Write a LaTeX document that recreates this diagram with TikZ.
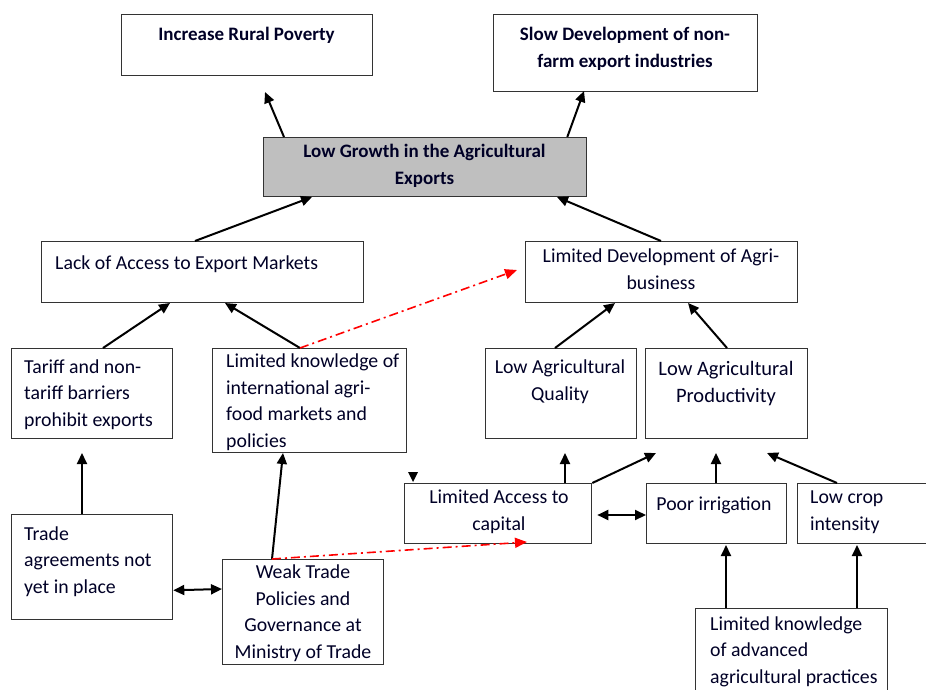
\documentclass[tikz,border=0pt]{standalone}
\usepackage{fontspec}
\setmainfont{Carlito}
\usetikzlibrary{arrows.meta,calc}

\tikzset{
  box/.style={draw=black!80, line width=1.3pt, rectangle, inner sep=0pt, anchor=north west},
  keybox/.style={box, fill=black!25},
  txt/.style={inner sep=0pt, anchor=base, text=black!85!blue, font=\fontsize{19.8}{26.5}\selectfont},
  bold/.style={txt, font=\fontsize{19}{27}\selectfont\bfseries},
  link/.style={line width=2pt, -{Triangle[length=11pt,width=10pt]}},
  twoway/.style={line width=2pt, {Triangle[length=11pt,width=10pt]}-{Triangle[length=11pt,width=10pt]}},
  hint/.style={red, line width=1.6pt, dash pattern=on 9pt off 4pt on 2pt off 4pt, -{Triangle[length=12pt,width=10pt]}}
}

% box from its top-left and bottom-right corners, in pixel units
\newcommand{\cbox}[6][box]{%
  \pgfmathsetmacro{\bw}{#5-#3}\pgfmathsetmacro{\bh}{#6-#4}%
  \node[#1, minimum width=\bw pt, minimum height=\bh pt] (#2) at (#3,#4) {};}

\begin{document}
\begin{tikzpicture}[x=1pt, y=-1pt]
\useasboundingbox (0,0) rectangle (926,690);
\clip (0,0) rectangle (926,690);

% boxes
\cbox{poverty}{121}{14}{372}{75}
\cbox{nonfarm}{493}{14}{757}{91}
\cbox[keybox]{growth}{263}{137}{586}{196}
\cbox{access}{41}{241}{363}{302}
\cbox{agribiz}{525}{241}{797}{302}
\cbox{tariff}{11}{348}{172}{438}
\cbox{intl}{212}{348}{406}{452}
\cbox{quality}{485}{348}{636}{438}
\cbox{product}{645}{348}{807}{438}
\cbox{capital}{404}{483}{591}{543}
\cbox{irrig}{646}{483}{786}{543}
\cbox{crop}{797}{483}{960}{543}
\cbox{practice}{695}{608}{887}{720}
\cbox{agree}{11}{514}{172}{619}
\cbox{policy}{222}{559}{383}{664}

% labels (multi-line labels are placed by the baseline of their last line)
\begin{scope}[yshift=-2pt]
\node[bold] at (246.5,39) {Increase Rural Poverty};
\node[bold, align=center] at (625,66) {Slow Development of non-\\farm export industries};
\node[bold, align=center] at (424.5,182) {Low Growth in the Agricultural\\Exports};
\node[txt, anchor=base west] at (55,267) {Lack of Access to Export Markets};
\node[txt, align=center] at (661,287) {Limited Development of Agri-\\business};
\node[txt, anchor=base west, align=left] at (24,424) {Tariff and non-\\tariff barriers\\prohibit exports};
\node[txt, anchor=base west, align=left] at (226,445) {Limited knowledge of\\international agri-\\food markets and\\policies};
\node[txt, align=center] at (560,398) {Low Agricultural\\Quality};
\node[txt, align=center, font=\fontsize{20.5}{27}\selectfont] at (726,400) {Low Agricultural\\Productivity};
\node[txt, align=center] at (499,528) {Limited Access to\\capital};
\node[txt] at (714,508) {Poor irrigation};
\node[txt, anchor=base west, align=left] at (810,528) {Low crop\\intensity};
\node[txt, anchor=base west, align=left] at (710,681) {Limited knowledge\\of advanced\\agricultural practices};
\node[txt, anchor=base west, align=left] at (24,591) {Trade\\agreements not\\yet in place};
\node[txt, align=center] at (303,656) {Weak Trade\\Policies and\\Governance at\\Ministry of Trade};
\end{scope}

% free arrow ends
\coordinate (povertyIn) at (265,92);
\coordinate (nonfarmIn) at (584,91);
\coordinate (growthInL) at (312,197);
\coordinate (growthInR) at (557,197);
\coordinate (accessInL) at (170,303);
\coordinate (accessInR) at (225,303);
\coordinate (agribizInL) at (615,303);
\coordinate (agribizInR) at (688,303);
\coordinate (agribizRed) at (517,270);
\coordinate (tariffIn) at (82,453);
\coordinate (intlIn) at (283,453);
\coordinate (capitalRed) at (527,542);
\coordinate (qualityIn) at (565,453);
\coordinate (productInL) at (656,453);
\coordinate (productInM) at (716,453);
\coordinate (productInR) at (767,453);
\coordinate (irrigIn) at (726,545);
\coordinate (cropIn) at (857,545);

% causal links
\draw[link] ($(growth.north west)+(21,0)$) -- (povertyIn);
\draw[link] ($(growth.north east)+(-20,0)$) -- (nonfarmIn);
\draw[link] ($(access.north west)+(154,0)$) -- (growthInL);
\draw[link] ($(agribiz.north west)+(136,0)$) -- (growthInR);
\draw[link] ($(tariff.north west)+(92,0)$) -- (accessInL);
\draw[link] ($(intl.north west)+(88,0)$) -- (accessInR);
\draw[link] ($(quality.north west)+(70,0)$) -- (agribizInL);
\draw[link] ($(product.north west)+(82,0)$) -- (agribizInR);
\draw[link] ($(agree.north west)+(71,0)$) -- (tariffIn);
\draw[link] ($(policy.north west)+(50,0)$) -- (intlIn);
\draw[link] ($(capital.north west)+(161,0)$) -- (qualityIn);
\draw[link] (capital.north east) -- (productInL);
\draw[link] ($(irrig.north west)+(70,0)$) -- (productInM);
\draw[link] ($(crop.north west)+(40,0)$) -- (productInR);
\draw[link] ($(practice.north west)+(31,0)$) -- (irrigIn);
\draw[link] ($(practice.north west)+(162,0)$) -- (cropIn);
\draw[twoway] ($(agree.south east)+(0,-30)$) -- ($(policy.north west)+(0,30)$);
\draw[twoway] ($(capital.north east)+(5,32)$) -- ($(irrig.north west)+(0,32)$);

% stray arrow tip above the capital box
\fill (408,472) -- (418,472) -- (413,482) -- cycle;

% indirect links
\draw[hint] ($(intl.north west)+(88,0)$) -- (agribizRed);
\draw[hint] ($(policy.north west)+(50,0)$) -- (capitalRed);
\end{tikzpicture}
\end{document}
